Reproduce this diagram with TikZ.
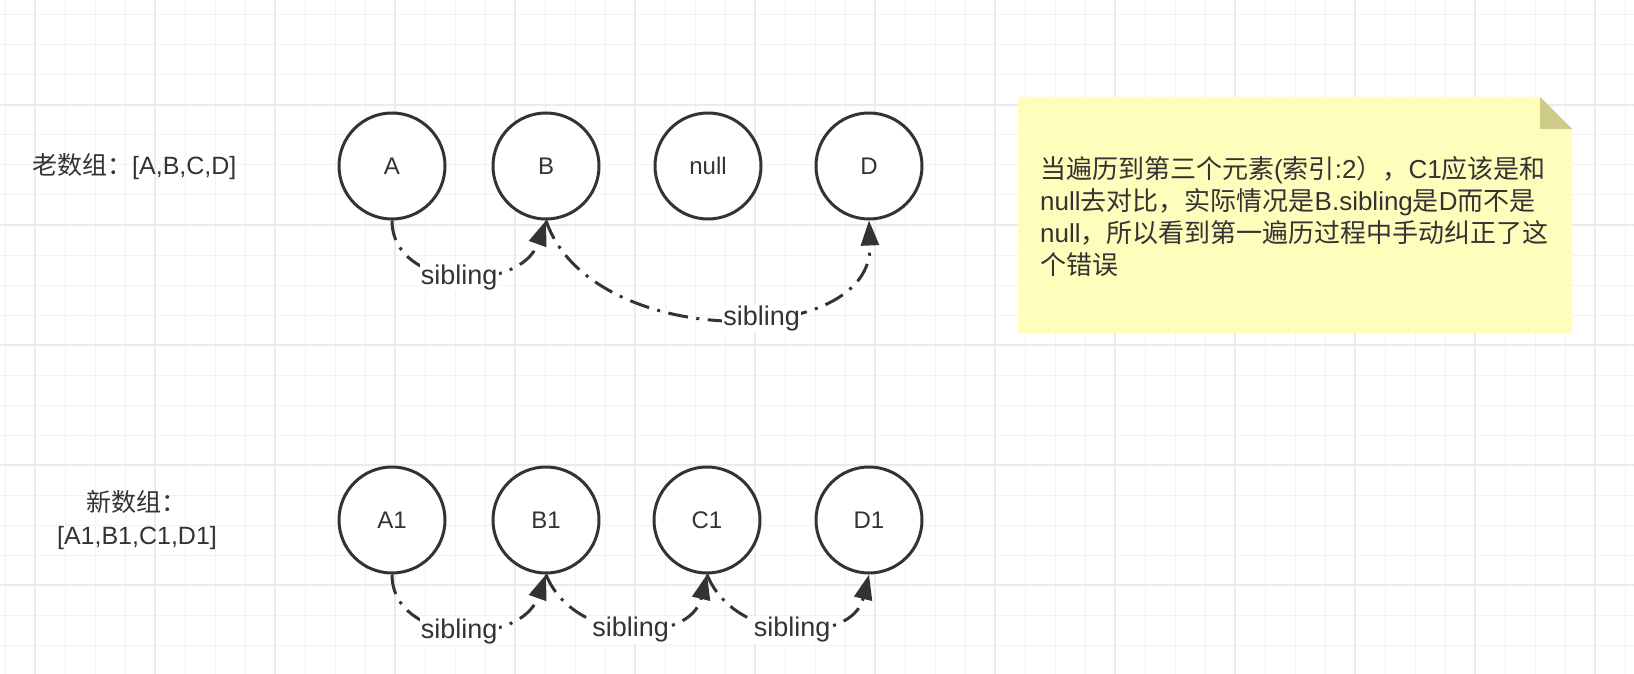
\documentclass[tikz,border=0pt]{standalone}
\usepackage{fontspec}
\setmainfont{Liberation Sans}
\newfontfamily\cjk{Noto Sans CJK SC}
\usetikzlibrary{arrows.meta}
\definecolor{ink}{HTML}{333333}
\definecolor{gridminor}{HTML}{F2F2F2}
\definecolor{gridmajor}{HTML}{EBEBEB}
\definecolor{notefill}{HTML}{FFFDBB}
\definecolor{notefold}{HTML}{CCCB87}
\begin{document}
\begin{tikzpicture}[x=1pt,y=-1pt,
  elem/.style={circle, draw=ink, line width=3pt, fill=white, minimum size=106pt, inner sep=0pt, text=ink, font=\fontsize{24}{24}\selectfont},
  rowlabel/.style={text=ink, font=\fontsize{25}{33}\selectfont, align=center, inner sep=0pt},
  notetext/.style={text=ink, font=\fontsize{26}{32}\selectfont, align=left, inner sep=0pt},
  sib/.style={draw=ink, line width=3pt, dash pattern=on 20pt off 8.5pt on 3pt off 8.5pt, -{Triangle[length=25pt,width=18pt]}},
  lbl/.style={fill=white, text=ink, font=\fontsize{27}{27}\selectfont, inner sep=1pt, yshift=-3pt},
  gminor/.style={draw=gridminor, line width=1pt},
  gmajor/.style={draw=gridmajor, line width=2pt},
]
\useasboundingbox (0,0) rectangle (1634,674);
\fill[white] (0,0) rectangle (1634,674);
% grid
\foreach \x in {5,35,...,1625} \draw[gminor] (\x,0) -- (\x,674);
\foreach \y in {15,45,...,665} \draw[gminor] (0,\y) -- (1634,\y);
\foreach \x in {35,155,...,1595} \draw[gmajor] (\x,0) -- (\x,674);
\foreach \y in {105,225,...,585} \draw[gmajor] (0,\y) -- (1634,\y);

% note
\fill[notefill] (1018,97) -- (1540,97) -- (1572,129) -- (1572,333) -- (1018,333) -- cycle;
\fill[notefold] (1540,97) -- (1540,129) -- (1572,129) -- cycle;
\node[notetext, anchor=west] (note) at (1040,216) {{\cjk 当遍历到第三个元素}({\cjk 索引}:2{\cjk ），}C1{\cjk 应该是和}\\
null{\cjk 去对比，实际情况是}B.sibling{\cjk 是}D{\cjk 而不是}\\
null{\cjk ，所以看到第一遍历过程中手动纠正了这}\\
{\cjk 个错误}};

% row labels
\node[rowlabel, anchor=west] (old) at (32,167) {{\cjk 老数组：}[A,B,C,D]};
\node[rowlabel] (new) at (137,520) {{\cjk 新数组：}\\{}[A1,B1,C1,D1]};

% old array
\node[elem] (A) at (392,166) {A};
\node[elem] (B) at (546,166) {B};
\node[elem] (N) at (708,166) {null};
\node[elem] (D) at (869,166) {D};

% new array
\node[elem] (A1) at (392,520) {A1};
\node[elem] (B1) at (546,520) {B1};
\node[elem] (C1) at (707,520) {C1};
\node[elem] (D1) at (869,520) {D1};

% sibling links
\draw[sib] (A.south) .. controls +(0,70) and +(-26,73) .. node[lbl]{sibling} (B.south);
\draw[sib] (B.south) .. controls +(44,130) and +(5,130) .. node[lbl,pos=0.58]{sibling} (D.south);
\draw[sib] (A1.south) .. controls +(0,70) and +(-26,73) .. node[lbl]{sibling} (B1.south);
\draw[sib] (B1.south) .. controls +(28,70) and +(-17,70) .. node[lbl]{sibling} (C1.south);
\draw[sib] (C1.south) .. controls +(28,70) and +(-17,70) .. node[lbl]{sibling} (D1.south);
\end{tikzpicture}
\end{document}
